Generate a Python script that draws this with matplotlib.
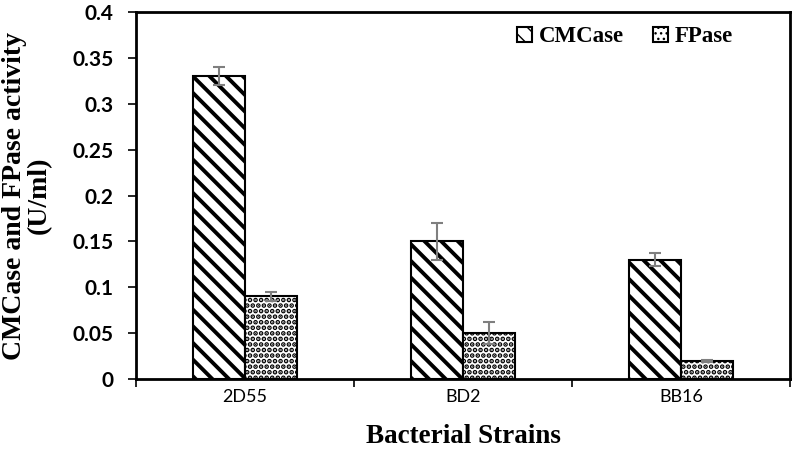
import matplotlib
matplotlib.use("Agg")
import matplotlib.pyplot as plt
import numpy as np

strains = ["2D55", "BD2", "BB16"]
cmcase = [0.33, 0.15, 0.13]
cmcase_err = [0.010, 0.020, 0.007]
fpase = [0.09, 0.05, 0.02]
fpase_err = [0.005, 0.012, 0.001]
yticks = [0, 0.05, 0.1, 0.15, 0.2, 0.25, 0.3, 0.35, 0.4]
ytick_labels = ["0", "0.05", "0.1", "0.15", "0.2", "0.25", "0.3", "0.35", "0.4"]

plt.rcParams['hatch.color'] = 'black'

fig = plt.figure(figsize=(7.94, 4.54), dpi=100)
ax = fig.add_axes([136/794, 1 - 379/454, (790-136)/794, (379-12)/454])

x = np.arange(len(strains))
w = 0.24
ekw = dict(ecolor='#7f7f7f', elinewidth=1.5, capsize=4, capthick=1.5)
b1 = ax.bar(x - w/2, cmcase, w, yerr=cmcase_err, color='white', edgecolor='black',
            linewidth=1.5, hatch='\\\\', error_kw=ekw, label='CMCase')
b2 = ax.bar(x + w/2, fpase, w, yerr=fpase_err, color='white', edgecolor='black',
            linewidth=1.5, hatch='...', error_kw=ekw, label='FPase')
for p in b1.patches:
    p.set_hatch_linewidth(2.8)
for p in b2.patches:
    p.set_hatch_linewidth(2.4)

ax.set_xlim(-0.5, 2.5)
ax.set_ylim(0, 0.4)
ax.set_yticks(yticks)
ax.set_yticklabels(ytick_labels, fontfamily='Lato', fontweight='bold', fontsize=15)
ax.set_xticks(x)
ax.set_xticklabels(strains, fontfamily='Lato', fontsize=13)
ax.tick_params(axis='x', which='major', length=0, pad=7)
ax.set_xticks([-0.5, 0.5, 1.5, 2.5], minor=True)
ax.tick_params(axis='x', which='minor', length=6, width=1.2, direction='out')
ax.tick_params(axis='y', length=6, width=1.2, direction='out', pad=10)
for s in ax.spines.values():
    s.set_linewidth(2)

ax.set_xlabel("Bacterial Strains", fontfamily='Liberation Serif', fontweight='bold',
              fontsize=19.5, labelpad=14)
ax.set_ylabel("CMCase and FPase activity\n(U/ml)", fontfamily='Liberation Serif',
              fontweight='bold', fontsize=20, linespacing=1.0)
ax.yaxis.set_label_coords((52 - 136) / 654, 0.5)

leg = ax.legend(loc='center', bbox_to_anchor=((625 - 136) / 654, (379 - 37) / 367), ncol=2,
                frameon=False,
                prop=dict(family='Liberation Serif', weight='bold', size=16.5),
                handlelength=0.65, handleheight=0.65, handletextpad=0.3, columnspacing=1.3)

fig.savefig("out.png", dpi=100)
